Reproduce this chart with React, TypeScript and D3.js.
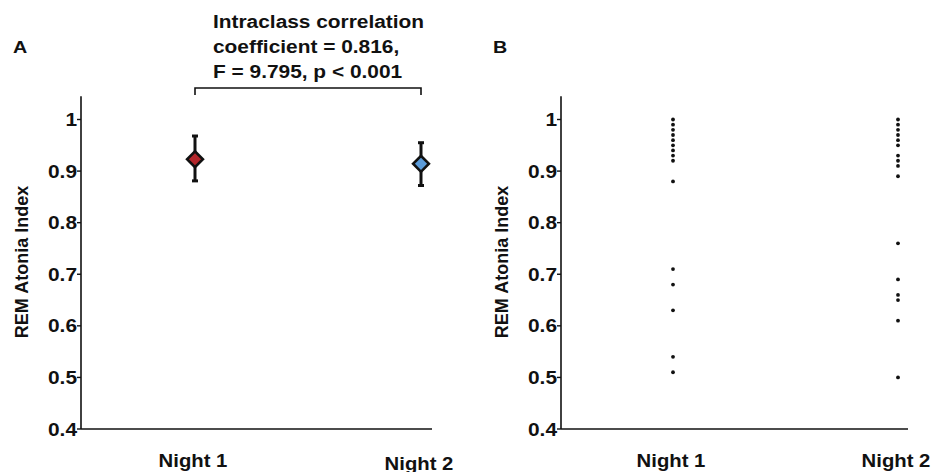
import React from "react";
import * as d3 from "d3";

const categories = ["Night 1", "Night 2"];
const yTicks = [0.4, 0.5, 0.6, 0.7, 0.8, 0.9, 1.0];
const yTickLabels = ["0.4", "0.5", "0.6", "0.7", "0.8", "0.9", "1"];

// Panel A: mean with error bars
const meanValues = [0.923, 0.914];
const upperValues = [0.968, 0.955];
const lowerValues = [0.881, 0.872];
const meanColors = ["#B3262B", "#5B9BD9"];

// Panel B: individual subjects
const night1Values = [1.0, 0.99, 0.98, 0.97, 0.96, 0.95, 0.94, 0.93, 0.92, 0.88, 0.71, 0.68, 0.63, 0.54, 0.51];
const night2Values = [1.0, 0.99, 0.98, 0.97, 0.96, 0.95, 0.93, 0.92, 0.91, 0.89, 0.76, 0.69, 0.66, 0.65, 0.61, 0.5];

const titleLines = ["Intraclass correlation", "coefficient = 0.816,", "F = 9.795, p < 0.001"];

const FONT = "'Liberation Sans', Arial, sans-serif";
const SX = 1.16;

function HText({ x, y, size, anchor = "start", children }: any) {
  return (
    <g transform={`translate(${x},${y}) scale(${SX},1)`}>
      <text x={0} y={0} fontSize={size} fontWeight="bold" fontFamily={FONT} textAnchor={anchor} fill="#111">
        {children}
      </text>
    </g>
  );
}

function Panel({ axisX, axisEnd, xRange, letter, children, labelYs }: any) {
  const y = d3.scaleLinear().domain([0.4, 1.0]).range([429, 119.5]);
  const x = d3.scalePoint().domain(categories).range(xRange);
  return (
    <g>
      <line x1={axisX} x2={axisX} y1={y(1.045)} y2={y(0.4)} stroke="#111" strokeWidth={1.6} />
      <line x1={axisX} x2={axisEnd} y1={y(0.4)} y2={y(0.4)} stroke="#111" strokeWidth={1.6} />
      {yTicks.map((t, i) => (
        <g key={i}>
          <line x1={axisX - 4} x2={axisX} y1={y(t)} y2={y(t)} stroke="#111" strokeWidth={1.4} />
          <HText x={axisX - 4} y={y(t) + 6.5} size={18} anchor="end">{yTickLabels[i]}</HText>
        </g>
      ))}
      <text
        transform={`translate(${axisX - 53},${262}) rotate(-90)`}
        fontSize={18}
        fontWeight="bold"
        fontFamily={FONT}
        textAnchor="middle"
        fill="#111"
      >
        REM Atonia Index
      </text>
      {categories.map((c, i) => (
        <HText key={c} x={(x(c) as number) - 2} y={labelYs[i]} size={17.5} anchor="middle">{c}</HText>
      ))}
      <HText x={axisX - 68} y={53} size={17}>{letter}</HText>
      {children(x, y)}
    </g>
  );
}

export default function App() {
  const diamond = d3.symbol(d3.symbolSquare, 125)() as string;
  return (
    <svg width={939} height={472} style={{ position: "absolute", left: 0, top: 0, background: "#fff" }}>
      <rect width={939} height={472} fill="#fff" />
      <Panel axisX={81} axisEnd={432} xRange={[195, 421]} letter="A" labelYs={[467, 469.5]}>
        {(x: any, y: any) => (
          <g>
            <path
              d={`M${x("Night 1")},95 V88 H${x("Night 2")} V95`}
              fill="none"
              stroke="#111"
              strokeWidth={1.6}
            />
            {titleLines.map((t, i) => (
              <HText key={i} x={213} y={28 + i * 25} size={18}>{t}</HText>
            ))}
            {categories.map((c, i) => {
              const cx = x(c);
              return (
                <g key={c}>
                  <line x1={cx} x2={cx} y1={y(upperValues[i])} y2={y(lowerValues[i])} stroke="#111" strokeWidth={3} />
                  <line x1={cx - 3} x2={cx + 3} y1={y(upperValues[i])} y2={y(upperValues[i])} stroke="#111" strokeWidth={3} />
                  <line x1={cx - 3} x2={cx + 3} y1={y(lowerValues[i])} y2={y(lowerValues[i])} stroke="#111" strokeWidth={3} />
                  <path
                    d={diamond}
                    transform={`translate(${cx},${y(meanValues[i])}) rotate(45)`}
                    fill={meanColors[i]}
                    stroke="#111"
                    strokeWidth={2.6}
                  />
                </g>
              );
            })}
          </g>
        )}
      </Panel>
      <Panel axisX={561} axisEnd={908} xRange={[673, 898]} letter="B" labelYs={[467, 467]}>
        {(x: any, y: any) => (
          <g>
            {[night1Values, night2Values].map((vals, i) =>
              vals.map((v, j) => (
                <circle key={`${i}-${j}`} cx={x(categories[i])} cy={y(v)} r={1.9} fill="#111" />
              ))
            )}
          </g>
        )}
      </Panel>
    </svg>
  );
}
